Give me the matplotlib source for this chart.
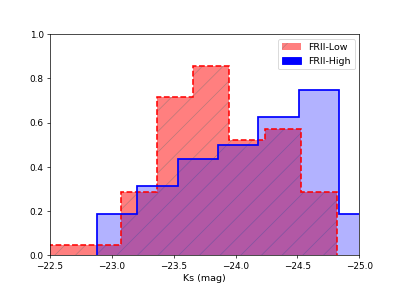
import matplotlib
matplotlib.use("Agg")
import matplotlib.pyplot as plt
from matplotlib.patches import Patch
import numpy as np

# FRII-Low histogram (bin edges in Ks mag, normalised heights)
low_edges = [-22.49, -22.782, -23.073, -23.365, -23.657, -23.948, -24.24, -24.532, -24.823]
low_heights = [0.0476, 0.0476, 0.2857, 0.7143, 0.8571, 0.5238, 0.5714, 0.2857]

# FRII-High histogram
high_edges = [-22.88, -23.206, -23.533, -23.86, -24.185, -24.51, -24.835, -25.16]
high_heights = [0.1875, 0.3125, 0.4375, 0.5, 0.625, 0.75, 0.1875]

labels = ["FRII-Low", "FRII-High"]

plt.rcParams["font.size"] = 11
plt.rcParams["xtick.labelsize"] = 10.3
plt.rcParams["ytick.labelsize"] = 10.3
plt.rcParams["hatch.linewidth"] = 0.8

DPI = 62.4
fig = plt.figure(figsize=(399.2 / DPI, 287.2 / DPI), dpi=DPI)
ax = fig.add_subplot(111)

le = np.array(low_edges)
he = np.array(high_edges)

hatch_col = (0.45, 0.45, 0.45)
ax.bar(le[:-1], low_heights, width=np.diff(le), align="edge",
       facecolor="red", edgecolor=hatch_col, alpha=0.5, hatch="/", linewidth=0)
ax.bar(he[:-1], high_heights, width=np.diff(he), align="edge",
       color="blue", alpha=0.3, linewidth=0)
ax.stairs(low_heights, le, color="red", linestyle="--", linewidth=1.8)
ax.stairs(high_heights, he, color="blue", linestyle="-", linewidth=2)

ax.set_xlim(-22.5, -25.0)
ax.set_ylim(0, 1.0)
ax.set_xlabel("Ks (mag)")

handles = [
    Patch(facecolor="red", edgecolor=hatch_col, alpha=0.5, hatch="/",
          linewidth=0, label=labels[0]),
    Patch(facecolor="blue", edgecolor="blue", label=labels[1]),
]
ax.legend(handles=handles, loc="upper right")

fig.savefig("out.png", dpi=DPI)
